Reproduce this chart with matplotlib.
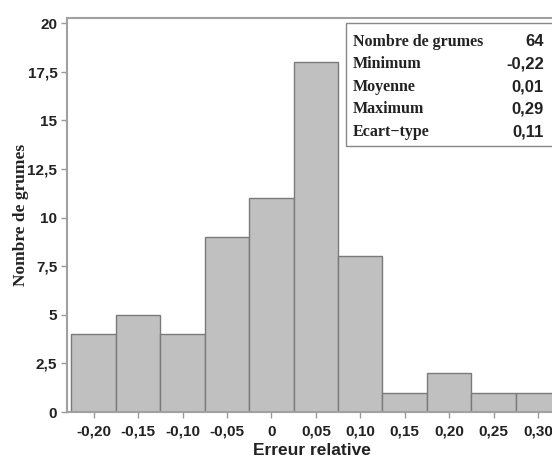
import numpy as np
import matplotlib.pyplot as plt
from matplotlib.patches import Rectangle
from matplotlib.ticker import FuncFormatter

# Histogram of relative errors (bin centres and counts)
bin_centres = [-0.20, -0.15, -0.10, -0.05, 0.0, 0.05, 0.10, 0.15, 0.20, 0.25, 0.30]
counts = [4, 5, 4, 9, 11, 18, 8, 1, 2, 1, 1]
bin_width = 0.05

x_ticks = [-0.20, -0.15, -0.10, -0.05, 0.0, 0.05, 0.10, 0.15, 0.20, 0.25, 0.30]
y_ticks = [0, 2.5, 5, 7.5, 10, 12.5, 15, 17.5, 20]

stat_names = ["Nombre de grumes", "Minimum", "Moyenne", "Maximum", "Ecart\u2212type"]
stat_values = ["64", "-0,22", "0,01", "0,29", "0,11"]

W, H = 552, 459
fig = plt.figure(figsize=(W / 100, H / 100), dpi=100)
ax = fig.add_axes([67 / W, 1 - 412 / H, 1 - 67 / W + 0.01, (412 - 18) / H])

ax.bar(bin_centres, counts, width=bin_width, color="#c0c0c0",
       edgecolor="#7a7a7a", linewidth=1.0, zorder=2)

ax.set_xlim(-0.23, 0.322)
ax.set_ylim(0, 20.26)
ax.set_xticks(x_ticks)
ax.set_yticks(y_ticks)

def comma_fmt(v, pos, nd):
    if abs(v) < 1e-9:
        return "0"
    s = f"{v:.{nd}f}" if nd else f"{v:g}"
    return s.replace(".", ",")

ax.xaxis.set_major_formatter(FuncFormatter(lambda v, p: comma_fmt(v, p, 2)))
ax.yaxis.set_major_formatter(FuncFormatter(lambda v, p: comma_fmt(v, p, 0)))

for lab in ax.get_xticklabels() + ax.get_yticklabels():
    lab.set_fontfamily("Liberation Sans")
    lab.set_fontweight("bold")
    lab.set_fontsize(11)
    lab.set_color("#222222")

ax.tick_params(axis="both", direction="out", length=4, width=1.0, color="#999999")
ax.tick_params(axis="x", pad=5)
ax.tick_params(axis="y", pad=3)

for side in ["left", "bottom", "top"]:
    ax.spines[side].set_color("#a0a0a0")
    ax.spines[side].set_linewidth(1.5)
ax.spines["right"].set_visible(False)

ax.set_xlabel("Erreur relative", fontfamily="Liberation Sans", fontweight="bold",
              fontsize=12.5, color="#222222", labelpad=3.5)
ax.set_ylabel("Nombre de grumes", fontfamily="Liberation Serif", fontweight="bold",
              fontsize=12.5, color="#222222", labelpad=-1)

# Summary statistics box in the upper right corner
box = Rectangle((346 / W, 1 - 146 / H), 1 - 346 / W + 0.01, (146 - 23) / H,
                transform=fig.transFigure, facecolor="white",
                edgecolor="#888888", linewidth=1.0, zorder=5)
fig.patches.append(box)

row_y = [42, 64, 87, 109, 132]
for name, val, y in zip(stat_names, stat_values, row_y):
    fig.text(353 / W, 1 - y / H, name, fontfamily="Liberation Serif",
             fontweight="bold", fontsize=11.5, color="#222222",
             ha="left", va="center", zorder=6)
    fig.text(544 / W, 1 - y / H, val, fontfamily="Liberation Sans",
             fontweight="bold", fontsize=12, color="#222222",
             ha="right", va="center", zorder=6)

fig.savefig("out.png", dpi=100)
